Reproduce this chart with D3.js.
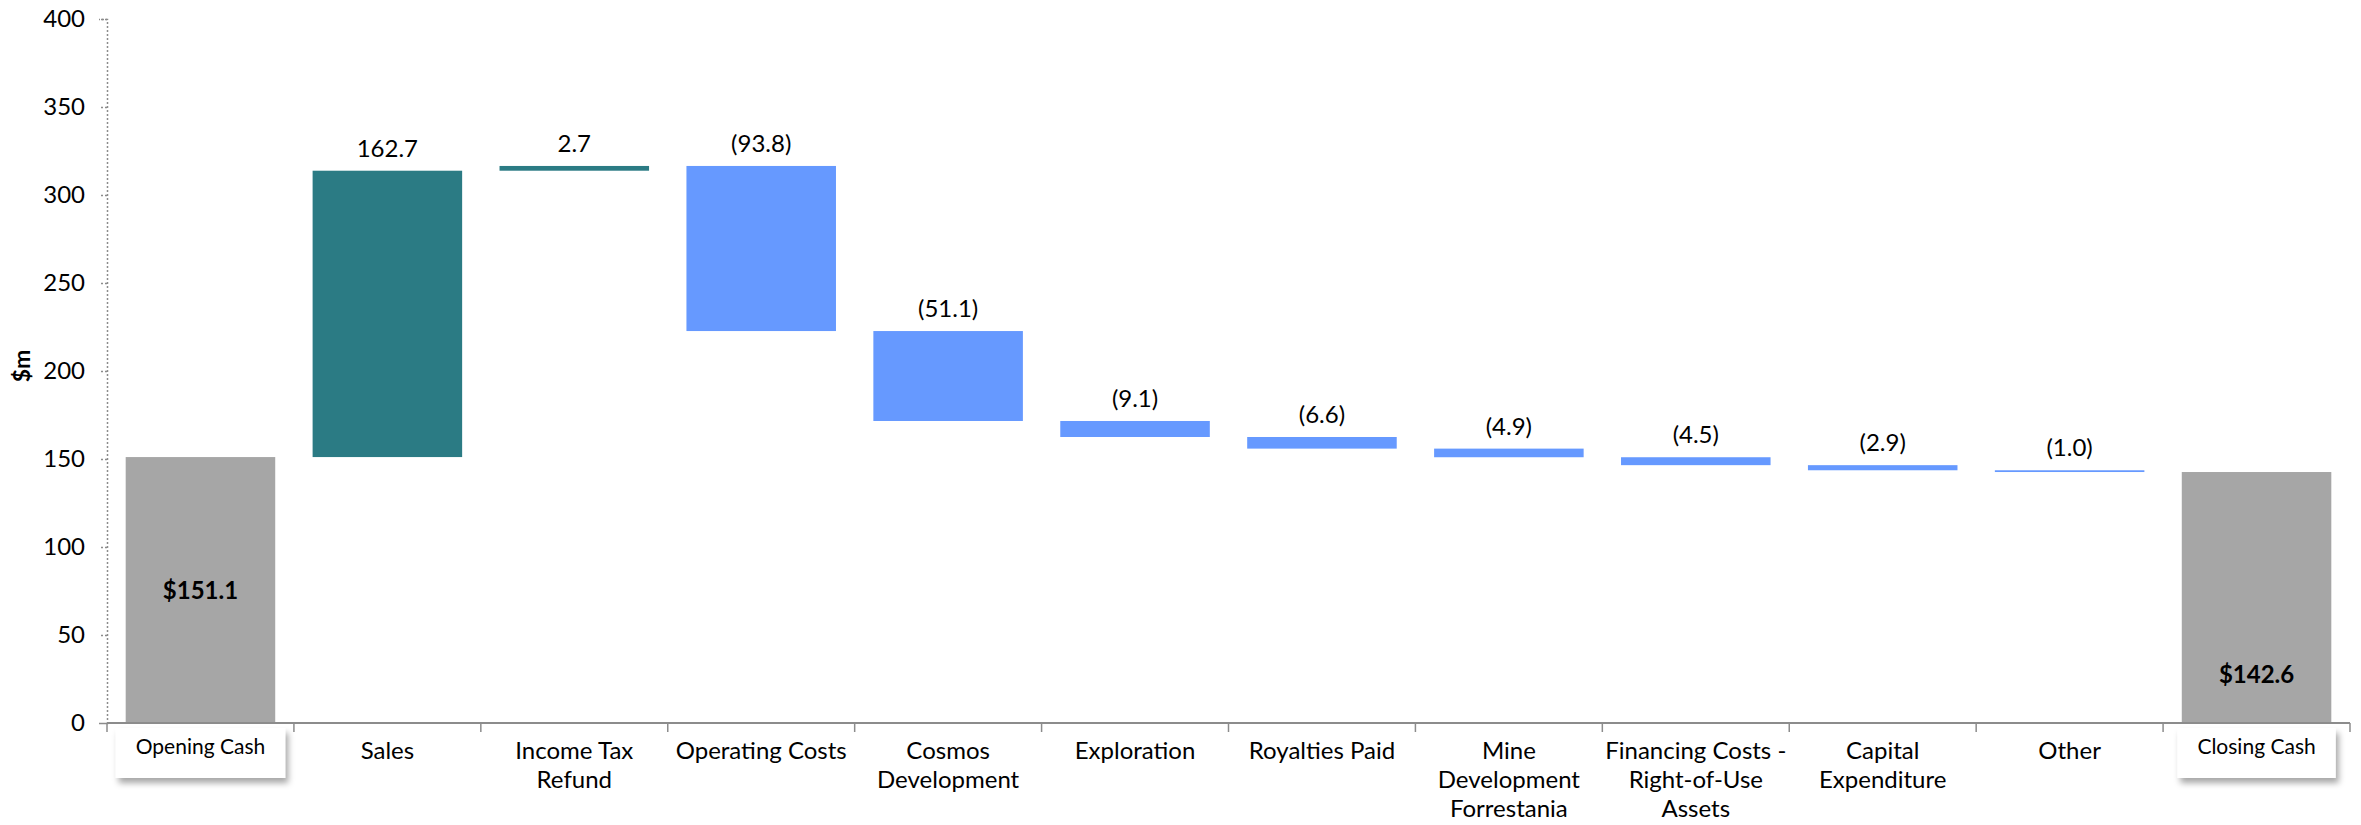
<!DOCTYPE html>
<html>
<head>
<meta charset="utf-8">
<script src="https://cdn.jsdelivr.net/npm/d3@7"></script>
<style>
  html, body { margin: 0; padding: 0; background: #fff; }
  svg text { font-family: Lato, "Open Sans", sans-serif; fill: #000; }
</style>
</head>
<body>
<svg id="chart" width="2361" height="825"></svg>
<script>
// ---- data ----
const categories = [
  "Opening Cash", "Sales", "Income Tax\nRefund", "Operating Costs", "Cosmos\nDevelopment",
  "Exploration", "Royalties Paid", "Mine\nDevelopment\nForrestania",
  "Financing Costs -\nRight-of-Use\nAssets", "Capital\nExpenditure", "Other", "Closing Cash"
];
const openingCash = 151.1;
const closingCash = 142.6;
const movements = [162.7, 2.7, -93.8, -51.1, -9.1, -6.6, -4.9, -4.5, -2.9, -1.0];
const yTicks = [0, 50, 100, 150, 200, 250, 300, 350, 400];

(function () {
// ---- build waterfall rows ----
const rows = [];
rows.push({cat: categories[0], y0: 0, y1: openingCash, kind: "total", label: "$" + openingCash.toFixed(1)});
let run = openingCash;
movements.forEach((v, i) => {
  const start = run, end = run + v;
  rows.push({cat: categories[i + 1], y0: start, y1: end, kind: v >= 0 ? "up" : "down",
             label: v >= 0 ? v.toFixed(1) : "(" + Math.abs(v).toFixed(1) + ")"});
  run = end;
});
rows.push({cat: categories[11], y0: 0, y1: closingCash, kind: "total", label: "$" + closingCash.toFixed(1)});

const colors = {total: "#A6A6A6", up: "#2B7B84", down: "#6699FF"};

const svg = d3.select("#chart");
const pL = 107, pR = 2350, pT = 19, pB = 723;

const x = d3.scaleBand().domain(categories).range([pL, pR]).paddingInner(0.2).paddingOuter(0.1);
const y = d3.scaleLinear().domain([0, 400]).range([pB, pT]);

// drop shadow filter
const defs = svg.append("defs");
const f = defs.append("filter").attr("id", "shadow").attr("x", "-20%").attr("y", "-30%").attr("width", "150%").attr("height", "180%");
f.append("feDropShadow").attr("dx", 3).attr("dy", 5).attr("stdDeviation", 3).attr("flood-color", "#000").attr("flood-opacity", 0.35);

// y axis (dotted)
const yAxis = svg.append("g").attr("transform", `translate(${pL},0)`)
  .call(d3.axisLeft(y).tickValues(yTicks).tickSize(8).tickPadding(14).tickFormat(d3.format("d")));
yAxis.select(".domain").attr("stroke", "#8c8c8c").attr("stroke-width", 1.5).attr("stroke-dasharray", "2,2");
yAxis.selectAll(".tick line").attr("stroke", "#8c8c8c").attr("stroke-width", 1.5).attr("stroke-dasharray", "2,2");
yAxis.selectAll(".tick text").style("font-size", "24px").attr("fill", "#000");

// y title
svg.append("text").attr("transform", `translate(30,${(pT + pB) / 2 - 5}) rotate(-90)`)
  .attr("text-anchor", "middle").style("font-size", "23px").style("font-weight", "bold").text("$m");

// bars
svg.append("g").selectAll("rect").data(rows).join("rect")
  .attr("x", d => x(d.cat))
  .attr("width", x.bandwidth())
  .attr("y", d => y(Math.max(d.y0, d.y1)))
  .attr("height", d => Math.max(1.5, Math.abs(y(d.y0) - y(d.y1))))
  .attr("fill", d => colors[d.kind]);

// value labels
svg.append("g").selectAll("text").data(rows.filter(d => d.kind !== "total")).join("text")
  .attr("x", d => x(d.cat) + x.bandwidth() / 2)
  .attr("y", d => y(Math.max(d.y0, d.y1)) - 14)
  .attr("text-anchor", "middle").style("font-size", "24px").text(d => d.label);

// total labels
const tot = rows.filter(d => d.kind === "total");
svg.append("g").selectAll("text").data(tot).join("text")
  .attr("x", d => x(d.cat) + x.bandwidth() / 2)
  .attr("y", (d, i) => i === 0 ? (y(d.y1) + y(0)) / 2 + 9 : y(0) - 40)
  .attr("text-anchor", "middle").style("font-size", "24px").style("font-weight", "bold").text(d => d.label);

// x axis
const xAxisG = svg.append("g").attr("transform", `translate(0,${pB})`);
xAxisG.append("line").attr("x1", pL).attr("x2", pR).attr("y1", 0).attr("y2", 0)
  .attr("stroke", "#8c8c8c").attr("stroke-width", 2);
const step = (pR - pL) / categories.length;
xAxisG.selectAll("line.tk").data(d3.range(categories.length + 1)).join("line").attr("class", "tk")
  .attr("x1", i => pL + i * step).attr("x2", i => pL + i * step)
  .attr("y1", 0).attr("y2", 9).attr("stroke", "#8c8c8c").attr("stroke-width", 1.5);

// category labels
const lab = svg.append("g").selectAll("g").data(categories).join("g")
  .attr("transform", (d, i) => `translate(${pL + (i + 0.5) * step},${pB})`);
lab.each(function(d, i) {
  const g = d3.select(this);
  const boxed = (i === 0 || i === categories.length - 1);
  const lines = d.split("\n");
  if (boxed) {
    const rect = g.append("rect").attr("fill", "#fff").attr("filter", "url(#shadow)");
    const t = g.append("text").attr("text-anchor", "middle").attr("y", 31).style("font-size", "21px").text(d);
    const w = t.node().getComputedTextLength();
    rect.attr("x", -w / 2 - 20).attr("width", w + 40).attr("y", 5).attr("height", 50);
  } else {
    const t = g.append("text").attr("text-anchor", "middle").style("font-size", "24px");
    lines.forEach((ln, k) => t.append("tspan").attr("x", 0).attr("y", 36 + k * 29).text(ln));
  }
});
})();
</script>
</body>
</html>
